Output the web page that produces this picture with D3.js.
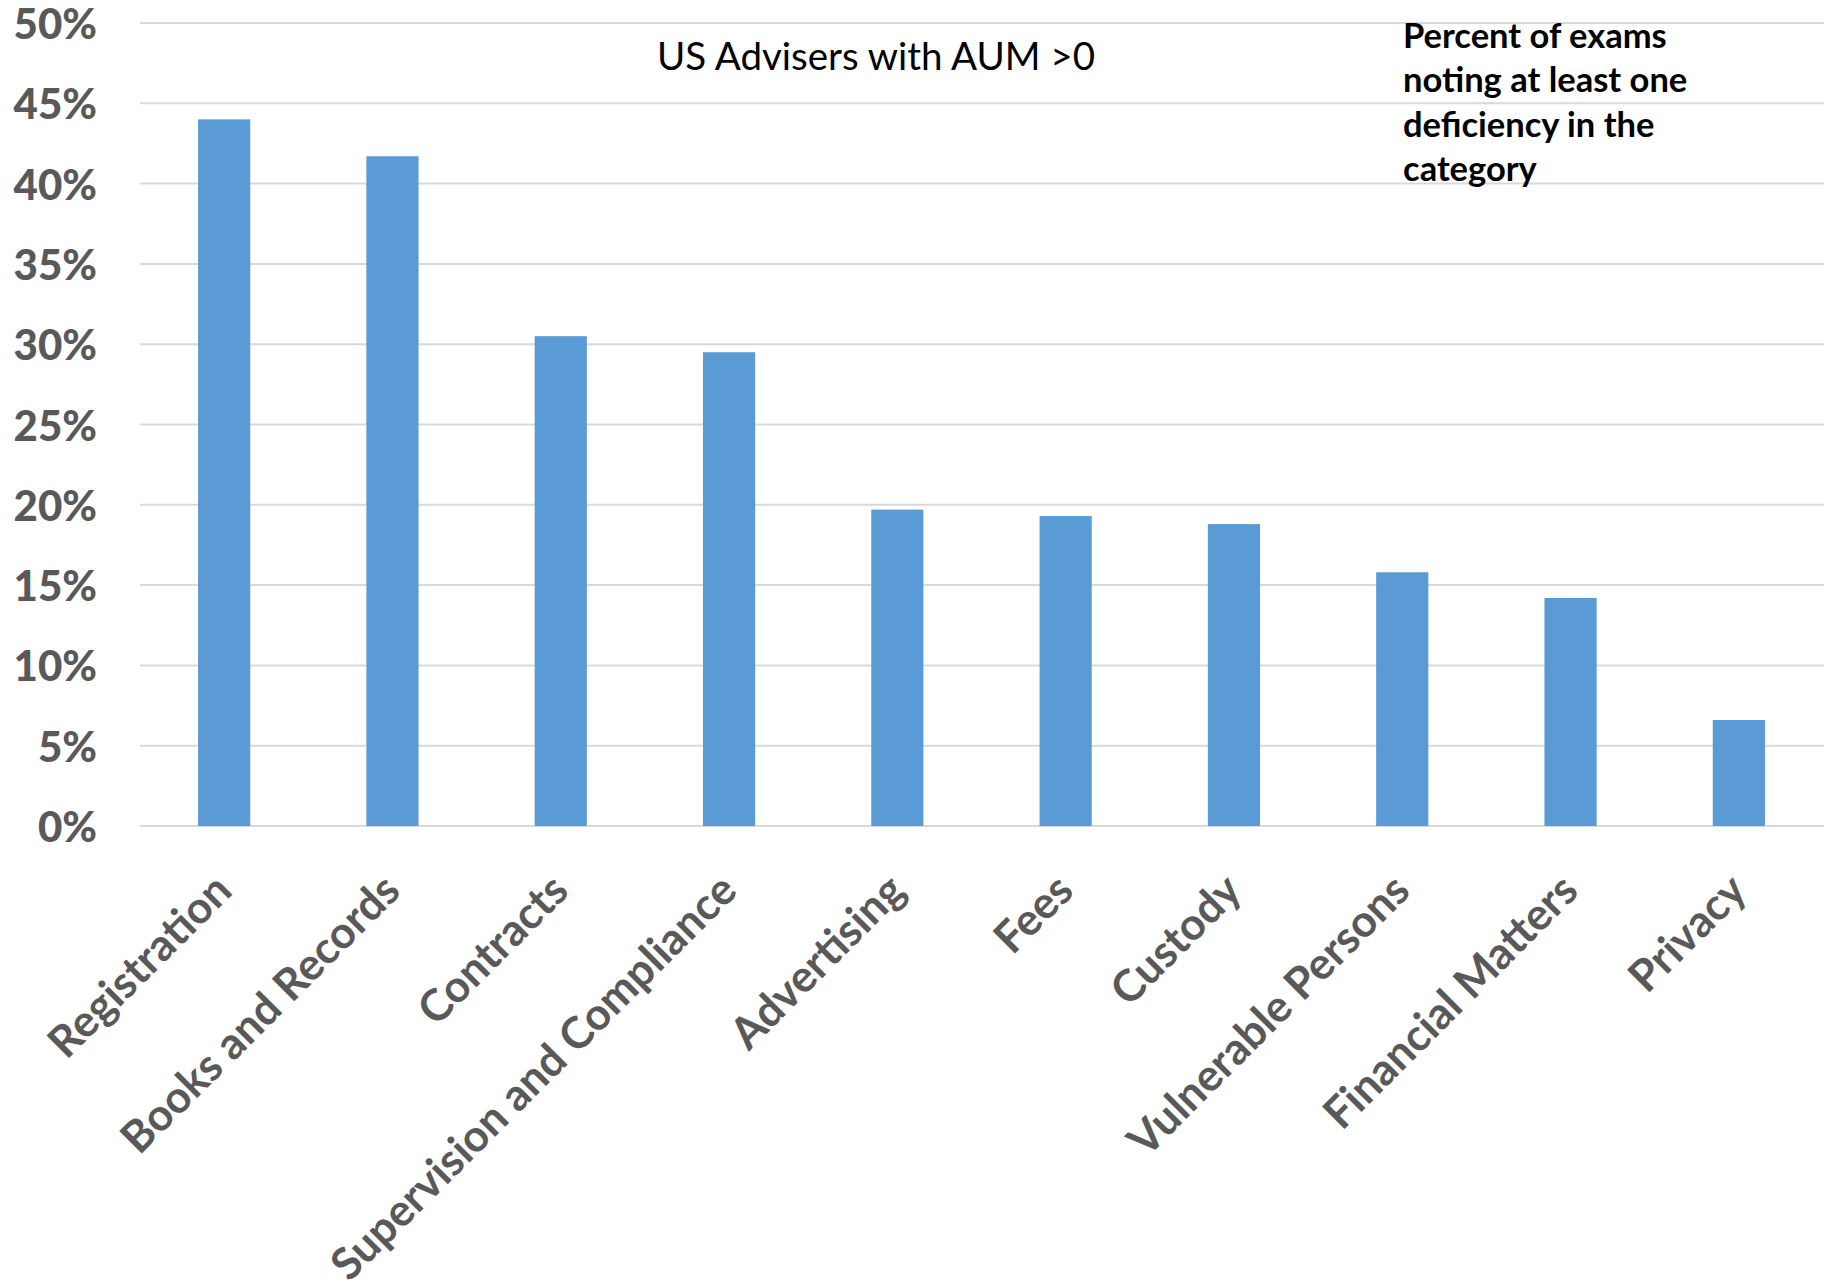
<!DOCTYPE html>
<html>
<head>
<meta charset="utf-8">
<script src="https://cdn.jsdelivr.net/npm/d3@7"></script>
<style>
  html, body { margin: 0; padding: 0; background: #ffffff; }
  svg { display: block; }
</style>
</head>
<body>
<svg id="chart" width="1826" height="1285"></svg>
<script>
// Exam deficiency categories and share of exams with at least one deficiency (%)
const categories = [
  "Registration", "Books and Records", "Contracts", "Supervision and Compliance",
  "Advertising", "Fees", "Custody", "Vulnerable Persons", "Financial Matters", "Privacy"
];
const values = [44.0, 41.7, 30.5, 29.5, 19.7, 19.3, 18.8, 15.8, 14.2, 6.6];
const yTicks = [0, 5, 10, 15, 20, 25, 30, 35, 40, 45, 50];
const subtitle = "US Advisers with AUM >0";
const noteLines = ["Percent of exams", "noting at least one", "deficiency in the", "category"];

const W = 1826, H = 1285;
const margin = { left: 140, right: 3, top: 23, bottom: 459 };
const svg = d3.select("#chart");

const x = d3.scaleBand()
  .domain(categories)
  .range([margin.left, W - margin.right])
  .paddingInner(0.69)
  .paddingOuter(0.345);

const y = d3.scaleLinear()
  .domain([0, 50])
  .range([H - margin.bottom, margin.top]);

const font = "Lato, 'Open Sans', sans-serif";

// horizontal gridlines
svg.append("g")
  .selectAll("line")
  .data(yTicks)
  .join("line")
  .attr("x1", margin.left)
  .attr("x2", W - 2)
  .attr("y1", d => y(d))
  .attr("y2", d => y(d))
  .attr("stroke", "#d9d9d9")
  .attr("stroke-width", 2);

// y axis labels
const yAxis = d3.axisLeft(y)
  .tickValues(yTicks)
  .tickFormat(d => d + "%")
  .tickSize(0)
  .tickPadding(0);

const yg = svg.append("g")
  .attr("transform", `translate(97,0)`)
  .call(yAxis);
yg.select(".domain").remove();
yg.selectAll("text")
  .attr("font-family", font)
  .attr("font-weight", 900)
  .attr("font-size", 42)
  .attr("fill", "#595959")
  .attr("dy", "0.37em");

// bars
svg.append("g")
  .selectAll("rect")
  .data(values)
  .join("rect")
  .attr("x", (d, i) => x(categories[i]))
  .attr("width", x.bandwidth())
  .attr("y", d => y(d))
  .attr("height", d => y(0) - y(d))
  .attr("fill", "#5b9bd5");

// category labels, rotated
const xAxis = d3.axisBottom(x).tickSize(0).tickPadding(0);
const xg = svg.append("g")
  .attr("transform", `translate(0,${y(0)})`)
  .call(xAxis);
xg.select(".domain").remove();
xg.selectAll(".tick text")
  .attr("font-family", font)
  .attr("font-weight", 700)
  .attr("font-size", 44)
  .attr("fill", "#595959")
  .attr("text-anchor", "end")
  .attr("dy", 0)
  .attr("transform", "translate(10,67) rotate(-45)");

// subtitle
svg.append("text")
  .attr("x", 876)
  .attr("y", 70)
  .attr("text-anchor", "middle")
  .attr("font-family", font)
  .attr("font-size", 38.5)
  .attr("fill", "#000000")
  .text(subtitle);

// note block
svg.append("text")
  .attr("font-family", font)
  .attr("font-weight", 700)
  .attr("font-size", 34.5)
  .attr("fill", "#000000")
  .selectAll("tspan")
  .data(noteLines)
  .join("tspan")
  .attr("x", 1403)
  .attr("y", (d, i) => 48 + i * 44.3)
  .text(d => d);
</script>
</body>
</html>
